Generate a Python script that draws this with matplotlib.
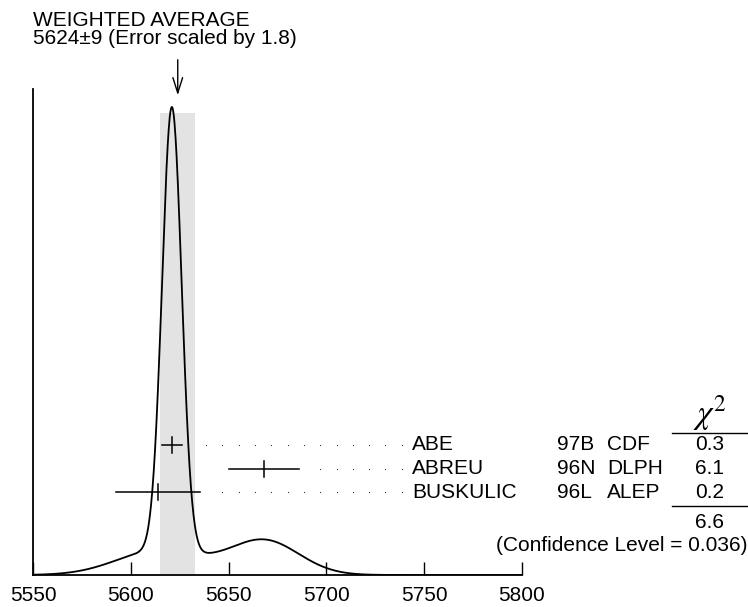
import numpy as np
import matplotlib
matplotlib.use("Agg")
import matplotlib.pyplot as plt

plt.rcParams["font.family"] = ["Liberation Sans", "DejaVu Sans"]
plt.rcParams["mathtext.fontset"] = "stix"

# measurements
names = ["ABE", "ABREU", "BUSKULIC"]
refs = ["97B", "96N", "96L"]
expts = ["CDF", "DLPH", "ALEP"]
values = [5621, 5668, 5614]
errors = [5.0, 17.9, 21.4]
chi2 = ["0.3", "6.1", "0.2"]
chi2_total = "6.6"
conf_level = "0.036"

avg = 5624
avg_err = 9
scale = 1.8

xticks = [5550, 5600, 5650, 5700, 5750, 5800]

W, H = 748, 607
fig = plt.figure(figsize=(W / 100, H / 100), dpi=100)

# axes box in pixels: x 33..522, y 89..575
ax = fig.add_axes([33 / W, 1 - 575 / H, 489 / W, 486 / H])


def px(x, y):
    return x / W, 1 - y / H


# ideogram: gaussians with area ~ 1/sigma
xs = np.linspace(5550, 5800, 1500)
ys = np.zeros_like(xs)
for m, s in zip(values, errors):
    ys += np.exp(-0.5 * ((xs - m) / s) ** 2) / (s * np.sqrt(2 * np.pi)) / s
ytop = ys.max() * 486 / 468

ax.axvspan(avg - avg_err, avg + avg_err, ymin=0, ymax=(575 - 113) / 486,
           color="#e3e3e3", lw=0, zorder=0)
ax.plot(xs, ys, color="black", lw=1.3, zorder=3)

ax.set_xlim(5550, 5800)
ax.set_ylim(0, ytop)

# error bars + dotted leaders
tr = ax.get_xaxis_transform()
row_y = [(575 - 445) / 486, (575 - 469) / 486, (575 - 492) / 486]
tick_h = 8 / 486
dot_step = 8.33
dot_end = 5738.5
for v, e, ry in zip(values, errors, row_y):
    ax.plot([v - e, v + e], [ry, ry], color="black", lw=1.1, transform=tr,
            clip_on=False, zorder=4)
    ax.plot([v, v], [ry - tick_h, ry + tick_h], color="black", lw=1.1,
            transform=tr, clip_on=False, zorder=4)
    dots = np.arange(dot_end, v + e + 10, -dot_step)
    ax.plot(dots, np.full_like(dots, ry), ls="none", marker="o",
            markersize=0.9, markeredgewidth=0, color="#333333",
            transform=tr, clip_on=False)

# arrow to the weighted average
ax.annotate("", xy=(avg, (575 - 98) / 486), xytext=(avg, (575 - 57) / 486),
            xycoords=tr, textcoords=tr,
            arrowprops=dict(arrowstyle="->,head_length=1.1,head_width=0.35",
                            color="black", lw=1.0))

for side in ["top", "right"]:
    ax.spines[side].set_visible(False)
for side in ["left", "bottom"]:
    ax.spines[side].set_linewidth(1.3)
ax.set_yticks([])
ax.set_xticks(xticks)
ax.tick_params(axis="x", direction="in", length=9.5, width=1.0, pad=8,
               labelsize=15)

fs = 15
fig.text(*px(33, 26), "WEIGHTED AVERAGE", fontsize=fs, va="baseline")
fig.text(*px(33, 44), f"{avg}±{avg_err} (Error scaled by {scale})",
         fontsize=fs, va="baseline")

base_y = [450, 474, 498]
for n, r, ex, c, by in zip(names, refs, expts, chi2, base_y):
    fig.text(*px(412, by), n, fontsize=fs, va="baseline")
    fig.text(*px(557, by), r, fontsize=fs, va="baseline")
    fig.text(*px(607, by), ex, fontsize=fs, va="baseline")
    fig.text(*px(710, by), c, fontsize=fs, va="baseline", ha="center")

fig.text(*px(710, 423), r"$\chi^2$", fontsize=24, va="baseline", ha="center")
fig.add_artist(plt.Line2D([672 / W, 747 / W], [1 - 433 / H] * 2,
                          color="black", lw=1.0))
fig.add_artist(plt.Line2D([672 / W, 747 / W], [1 - 506 / H] * 2,
                          color="black", lw=1.0))
fig.text(*px(710, 528), chi2_total, fontsize=fs, va="baseline", ha="center")
fig.text(*px(747, 551), f"(Confidence Level = {conf_level})", fontsize=fs,
         va="baseline", ha="right")

fig.savefig("out.png", dpi=100)
